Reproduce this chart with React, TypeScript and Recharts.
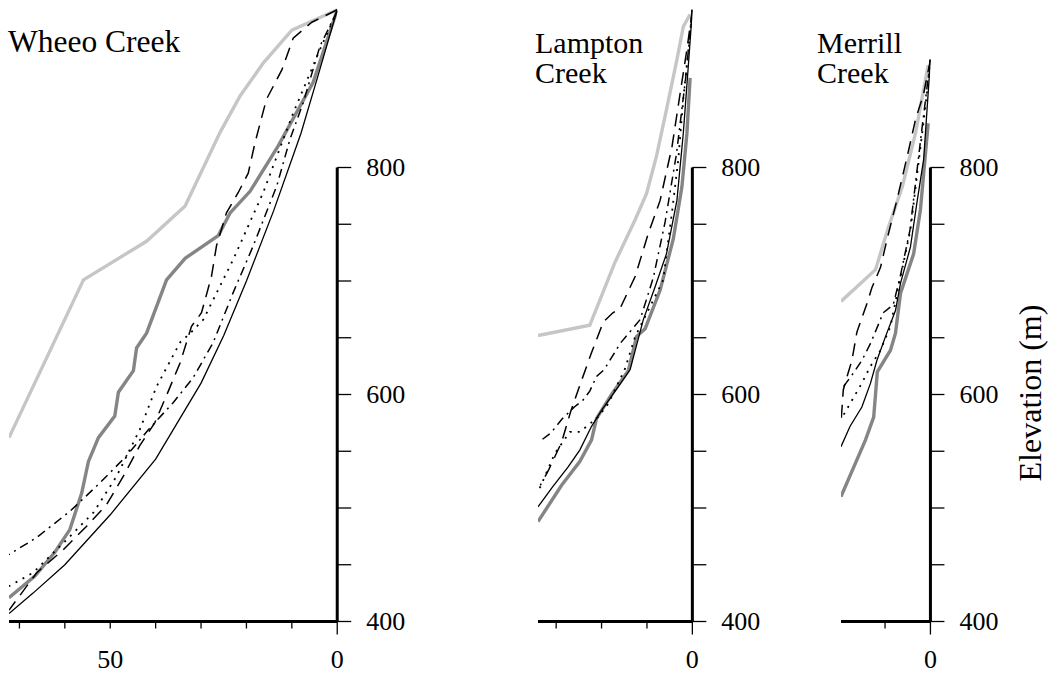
import React from "react";
import { LineChart, Line, XAxis, YAxis, ReferenceLine } from "recharts";

// [distance from outlet, elevation (m)]
type Pt = [number, number];

const elevTicks = [400, 450, 500, 550, 600, 650, 700, 750, 800];
const elevLabels = [400, 600, 800];

// Wheeo Creek
const wheeoLight: Pt[] = [[0, 939], [10, 921], [16.3, 892], [21.4, 863], [25.8, 831], [33.5, 766], [42, 735], [55.9, 701], [72.3, 562]];
const wheeoDark: Pt[] = [[0, 939], [5.3, 875], [13, 819], [19.2, 779], [23.6, 760], [26.2, 740], [33.5, 720], [37.6, 701], [42, 654], [44.2, 641], [44.9, 621], [48.2, 602], [49, 581], [52.6, 562], [54.8, 541], [56.3, 513], [58.9, 481], [62.2, 461], [66.6, 440], [72.3, 421]];
const wheeoSolid: Pt[] = [[0, 939], [4, 884], [8, 830], [14, 762], [20, 700], [25, 652], [30, 610], [40, 543], [50, 494], [60, 450], [67, 425], [72.3, 407]];
const wheeoDashed: Pt[] = [[0, 939], [5.6, 928], [9.7, 914], [12.2, 886], [15.6, 860], [18.1, 822], [19.6, 795], [21.8, 778], [24.4, 760], [26.6, 731], [27.7, 704], [29.9, 672], [32.1, 660], [34.6, 628], [37.2, 603], [40.2, 575], [43.5, 555], [47.1, 528], [50.8, 503], [55.2, 484], [60.4, 463], [66.2, 443], [72.3, 410]];
const wheeoDashDot: Pt[] = [[0, 938], [3.8, 907], [7.5, 857], [10.4, 825], [13.3, 784], [18.5, 731], [22.9, 690], [27.3, 646], [31.7, 615], [36.1, 593], [41.6, 569], [46.4, 546], [52.3, 522], [58.9, 497], [66.2, 474], [72.3, 459]];
const wheeoDotted: Pt[] = [[0, 938], [3.8, 904], [9.7, 848], [16.3, 778], [22.9, 719], [29.5, 666], [32.4, 654], [34.6, 646], [39.8, 607], [43.5, 569], [48.6, 528], [53.7, 496], [59.6, 472], [67, 443], [72.3, 431]];

// Lampton Creek
const lamptonLight: Pt[] = [[0.5, 935], [2, 924], [3.4, 895], [5.7, 851], [7.9, 810], [10.1, 777], [12.6, 754], [17.1, 716], [22.6, 661], [34, 652]];
const lamptonDark: Pt[] = [[0.5, 879], [1.2, 830], [2.3, 783], [4.2, 737], [7.1, 692], [10.4, 658], [12.3, 651], [14.1, 621], [17.8, 600], [21.1, 579], [22.2, 560], [24.8, 541], [28.8, 520], [34, 488]];
const lamptonSolid: Pt[] = [[0, 939], [0.9, 889], [2, 830], [3.4, 771], [5.7, 724], [8.2, 695], [10.8, 666], [13.7, 622], [16.3, 607], [20, 586], [22.2, 572], [24.8, 551], [27.4, 536], [30.7, 519], [34, 501]];
const lamptonDashed: Pt[] = [[0, 939], [1.2, 904], [2.7, 865], [4.5, 818], [7.1, 771], [9.7, 742], [12.6, 704], [15.9, 676], [17.5, 672], [19.6, 664], [22.2, 637], [24.8, 608], [26.8, 585], [28.8, 558], [31.6, 534], [33.5, 520]];
const lamptonDashDot: Pt[] = [[0, 939], [1.5, 878], [3.5, 812], [6, 752], [8.6, 703], [11.5, 666], [15.9, 645], [19.4, 622], [21.1, 616], [22.6, 603], [24.1, 595], [26, 589], [28.8, 578], [31.2, 566], [33.2, 560]];
const lamptonDotted: Pt[] = [[0, 939], [2, 860], [3.1, 807], [4.5, 760], [5.7, 724], [6.4, 701], [9, 680], [12.6, 651], [14.8, 623], [18.5, 592], [20.8, 580], [24.8, 567], [27, 567], [30.3, 548], [34, 514]];

// Merrill Creek
const merrillLight: Pt[] = [[0.5, 890], [3.3, 830], [6.2, 783], [9.2, 748], [12.1, 710], [19.7, 682]];
const merrillDark: Pt[] = [[0.5, 839], [2.2, 763], [3.7, 724], [6.6, 689], [7.7, 654], [8.8, 639], [11.7, 620], [12.5, 580], [14.3, 560], [19.7, 510]];
const merrillSolid: Pt[] = [[0, 895], [1.5, 807], [2.9, 771], [4.4, 730], [6.6, 698], [7.7, 674], [9.9, 651], [11.8, 630], [13.2, 610], [15.1, 589], [17.7, 572], [19.7, 554]];
const merrillDashed: Pt[] = [[0, 895], [1.5, 865], [3.3, 842], [5.1, 810], [7.4, 771], [9.6, 736], [11, 712], [12.9, 694], [14, 680], [16.2, 655], [17.3, 630], [18.5, 614], [19.2, 604], [19.7, 575]];
const merrillDashDot: Pt[] = [[0, 895], [2, 830], [4.5, 745], [6.6, 705], [8.2, 679], [10.4, 672], [13.2, 645], [15.1, 630], [17.3, 617], [19.7, 604]];
const merrillDotted: Pt[] = [[0, 895], [1.1, 854], [2.9, 795], [4.4, 745], [6, 715], [8.1, 674], [8.8, 660], [11, 639], [13.2, 625], [15.1, 610], [17.7, 592], [19.7, 578]];

const PX_PER_UNIT = 4.54;
const AXIS_Y = 621.5;
const ELEV_TOP = 400 + AXIS_Y / 1.135;
const FONT = "'Liberation Serif', 'Times New Roman', 'DejaVu Serif', serif";

const styles = {
  light: { stroke: "#c6c6c6", width: 3.4, dash: undefined },
  dark: { stroke: "#858585", width: 3.4, dash: undefined },
  dotted: { stroke: "#000", width: 1.8, dash: "2 6" },
  dashDot: { stroke: "#000", width: 1.5, dash: "9 5 2 5" },
  dashed: { stroke: "#000", width: 1.5, dash: "13 8" },
  solid: { stroke: "#000", width: 1.3, dash: undefined },
};

type Series = { light: Pt[]; dark: Pt[]; dotted: Pt[]; dashDot: Pt[]; dashed: Pt[]; solid: Pt[] };

const rows = (pts: Pt[]) => pts.map(([d, e]) => ({ d, e }));

interface PanelProps {
  axisX: number;
  maxDist: number;
  xTicks: number[];
  xLabels: number[];
  series: Series;
}

const Panel = ({ axisX, maxDist, xTicks, xLabels, series }: PanelProps) => {
  const plotW = maxDist * PX_PER_UNIT;
  const XTick = (p: any) => {
    const v = p.payload.value;
    return (
      <g>
        <line x1={p.x} x2={p.x} y1={p.y} y2={p.y + (v === 0 ? 13 : 7)} stroke="#000" strokeWidth={1.3} />
        {xLabels.includes(v) && (
          <text x={p.x} y={p.y + 47} textAnchor="middle" fontSize={26} fontFamily={FONT} fill="#000">
            {v}
          </text>
        )}
      </g>
    );
  };
  const YTick = (p: any) => {
    const v = p.payload.value;
    return (
      <g>
        <line x1={p.x} x2={p.x + 14} y1={p.y} y2={p.y} stroke="#000" strokeWidth={1.3} />
        {elevLabels.includes(v) && (
          <text x={p.x + 29} y={p.y} dy="0.34em" textAnchor="start" fontSize={26} fontFamily={FONT} fill="#000">
            {v}
          </text>
        )}
      </g>
    );
  };
  return (
    <div style={{ position: "absolute", left: axisX - plotW, top: 0 }}>
      <LineChart width={plotW + 100} height={675} margin={{ top: 0, right: 0, bottom: 0, left: 0 }}>
        <XAxis
          dataKey="d"
          type="number"
          reversed
          domain={[0, maxDist]}
          allowDataOverflow
          ticks={xTicks}
          interval={0}
          height={675 - AXIS_Y}
          axisLine={{ stroke: "#000", strokeWidth: 3 }}
          tickLine={false}
          tickSize={0}
          tickMargin={0}
          tick={XTick}
        />
        <YAxis
          dataKey="e"
          type="number"
          orientation="right"
          domain={[400, ELEV_TOP]}
          allowDataOverflow
          ticks={elevTicks}
          interval={0}
          width={100}
          axisLine={false}
          tickLine={false}
          tickSize={0}
          tickMargin={0}
          tick={YTick}
        />
        <ReferenceLine
          segment={[{ x: 0, y: 400 }, { x: 0, y: 800 }]}
          stroke="#000"
          strokeWidth={3}
          ifOverflow="visible"
        />
        {(Object.keys(styles) as (keyof Series)[]).map((k) => (
          <Line
            key={k}
            data={rows(series[k])}
            dataKey="e"
            type="linear"
            stroke={styles[k].stroke}
            strokeWidth={styles[k].width}
            strokeDasharray={styles[k].dash}
            dot={false}
            activeDot={false}
            isAnimationActive={false}
          />
        ))}
      </LineChart>
    </div>
  );
};

const titleStyle: React.CSSProperties = {
  position: "absolute",
  top: 28,
  fontSize: 30,
  lineHeight: "30px",
  color: "#000",
  whiteSpace: "nowrap",
  fontFamily: FONT,
};

export default function App() {
  return (
    <div style={{ position: "absolute", left: 0, top: 0, width: 1052, height: 675, background: "#fff", fontFamily: FONT, overflow: "hidden" }}>
      <Panel
        axisX={337.3}
        maxDist={72.3}
        xTicks={[0, 10, 20, 30, 40, 50, 60, 70]}
        xLabels={[0, 50]}
        series={{ light: wheeoLight, dark: wheeoDark, dotted: wheeoDotted, dashDot: wheeoDashDot, dashed: wheeoDashed, solid: wheeoSolid }}
      />
      <Panel
        axisX={692.3}
        maxDist={34}
        xTicks={[0, 10, 20, 30]}
        xLabels={[0]}
        series={{ light: lamptonLight, dark: lamptonDark, dotted: lamptonDotted, dashDot: lamptonDashDot, dashed: lamptonDashed, solid: lamptonSolid }}
      />
      <Panel
        axisX={930}
        maxDist={19.7}
        xTicks={[0, 10]}
        xLabels={[0]}
        series={{ light: merrillLight, dark: merrillDark, dotted: merrillDotted, dashDot: merrillDashDot, dashed: merrillDashed, solid: merrillSolid }}
      />
      <div style={{ ...titleStyle, left: 8, top: 27.4, fontSize: 31.5 }}>Wheeo Creek</div>
      <div style={{ ...titleStyle, left: 535 }}>
        Lampton
        <br />
        Creek
      </div>
      <div style={{ ...titleStyle, left: 817 }}>
        Merrill
        <br />
        Creek
      </div>
      <div
        style={{
          position: "absolute",
          left: 1030.2 - 100,
          top: 393 - 17,
          width: 200,
          height: 34,
          lineHeight: "34px",
          fontSize: 32,
          textAlign: "center",
          transform: "rotate(-90deg)",
          whiteSpace: "nowrap",
          fontFamily: FONT,
        }}
      >
        Elevation (m)
      </div>
    </div>
  );
}
